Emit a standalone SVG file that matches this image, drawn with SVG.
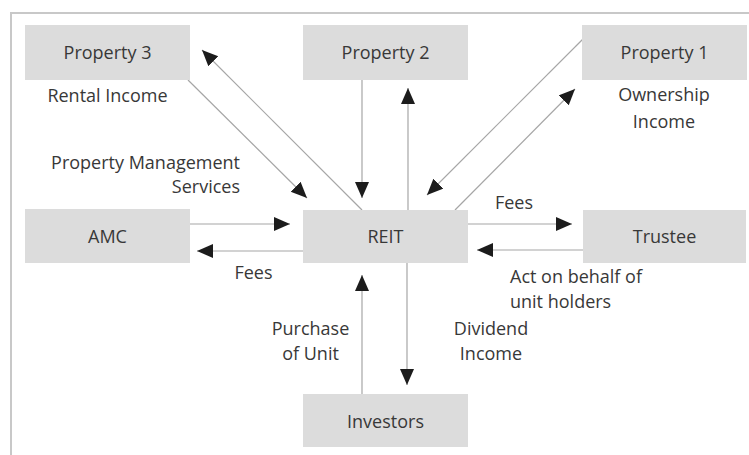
<svg xmlns="http://www.w3.org/2000/svg" width="749" height="455" viewBox="0 0 749 455">
  <style>
    .box { fill: #dcdcdc; }
    .t { font-family: "Open Sans", "Liberation Sans", sans-serif; font-size: 18px; fill: #383838; text-anchor: middle; }
    .l { text-anchor: start; }
    .r { text-anchor: end; }
    .c { stroke: #a6a6a6; stroke-width: 1.2; fill: none; marker-end: url(#arrow); }
  </style>
  <defs>
    <marker id="arrow" markerUnits="userSpaceOnUse" markerWidth="17" markerHeight="15" refX="16" refY="7" orient="auto">
      <path d="M0,0 L16,7 L0,14 Z" fill="#1c1c1c"/>
    </marker>
  </defs>

  <rect width="749" height="455" fill="#ffffff"/>
  <!-- frame -->
  <path d="M11,455 V13 H749" fill="none" stroke="#c8c8c8" stroke-width="2"/>

  <!-- connectors -->
  <g id="connectors">
    <line class="c" x1="188" y1="80" x2="307" y2="198"/>
    <line class="c" x1="362" y1="210" x2="202" y2="50"/>
    <line class="c" x1="362" y1="79" x2="362" y2="198"/>
    <line class="c" x1="408" y1="210" x2="408" y2="88"/>
    <line class="c" x1="455" y1="210" x2="575" y2="89"/>
    <line class="c" x1="583" y1="39" x2="427" y2="195"/>
    <line class="c" x1="190" y1="224" x2="290" y2="224"/>
    <line class="c" x1="303" y1="251" x2="197" y2="251"/>
    <line class="c" x1="468" y1="224" x2="572" y2="224"/>
    <line class="c" x1="583" y1="250" x2="477" y2="250"/>
    <line class="c" x1="362" y1="394" x2="362" y2="275"/>
    <line class="c" x1="407" y1="263" x2="407" y2="385"/>
  </g>

  <!-- nodes -->
  <g id="property3">
    <rect class="box" x="25" y="25" width="165" height="55"/>
    <text class="t" x="107.5" y="59">Property 3</text>
  </g>
  <g id="property2">
    <rect class="box" x="303" y="25" width="165" height="55"/>
    <text class="t" x="385.5" y="59">Property 2</text>
  </g>
  <g id="property1">
    <rect class="box" x="582" y="25" width="165" height="55"/>
    <text class="t" x="664.5" y="59">Property 1</text>
  </g>
  <g id="amc">
    <rect class="box" x="25" y="209" width="165" height="54"/>
    <text class="t" x="107.5" y="243">AMC</text>
  </g>
  <g id="reit">
    <rect class="box" x="303" y="210" width="165" height="53"/>
    <text class="t" x="385.5" y="243">REIT</text>
  </g>
  <g id="trustee">
    <rect class="box" x="583" y="210" width="163" height="53"/>
    <text class="t" x="664.5" y="243">Trustee</text>
  </g>
  <g id="investors">
    <rect class="box" x="303" y="394" width="165" height="53"/>
    <text class="t" x="385.5" y="428">Investors</text>
  </g>

  <!-- labels -->
  <g id="labels">
    <text class="t" x="107.5" y="102">Rental Income</text>
    <text class="t" x="664" y="101">Ownership</text>
    <text class="t" x="664" y="128">Income</text>
    <text class="t r" x="240" y="169">Property Management</text>
    <text class="t r" x="240" y="193">Services</text>
    <text class="t" x="253.5" y="279">Fees</text>
    <text class="t" x="514" y="209">Fees</text>
    <text class="t l" x="510" y="283">Act on behalf of</text>
    <text class="t l" x="510" y="308">unit holders</text>
    <text class="t" x="491" y="335">Dividend</text>
    <text class="t" x="491" y="360">Income</text>
    <text class="t" x="310.5" y="335">Purchase</text>
    <text class="t" x="310.5" y="360">of Unit</text>
  </g>
</svg>
